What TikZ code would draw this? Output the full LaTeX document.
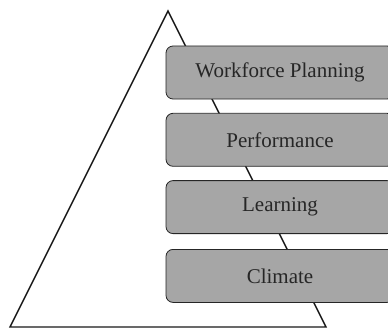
\documentclass[tikz,border=0pt]{standalone}
\usepackage{fontspec}
\setmainfont{Liberation Serif}
\usetikzlibrary{positioning}

\begin{document}
\begin{tikzpicture}[
        x=1pt, y=-1pt,
        node distance=13.5pt,
        level/.style={rectangle, draw=black!85, line width=0.8pt, rounded corners=7pt, fill=black!35!white, minimum width=228pt, minimum height=53pt, inner sep=0pt, text=black!85, font=\fontsize{21}{24}\selectfont},
        pyramid/.style={draw=black!90, line width=1.4pt, line join=miter}
    ]

    % Frame of the picture
    \useasboundingbox (0,0) rectangle (388,329);
    \clip (0,0) rectangle (388,329);

    % Triangle behind the levels
    \coordinate (top) at (168,11);
    \coordinate (bl) at (10,327);
    \coordinate (br) at (326,327);
    \draw[pyramid] (top) -- (bl) -- (br) -- cycle;

    % Levels, top to bottom
    \node[level] (plan) at (280,72.5) {Workforce Planning};
    \node[level] (perf) [below=of plan] {Performance};
    \node[level] (learn) [below=of perf] {Learning};
    \node[level] (clim) [below=15pt of learn] {Climate};

\end{tikzpicture}
\end{document}
